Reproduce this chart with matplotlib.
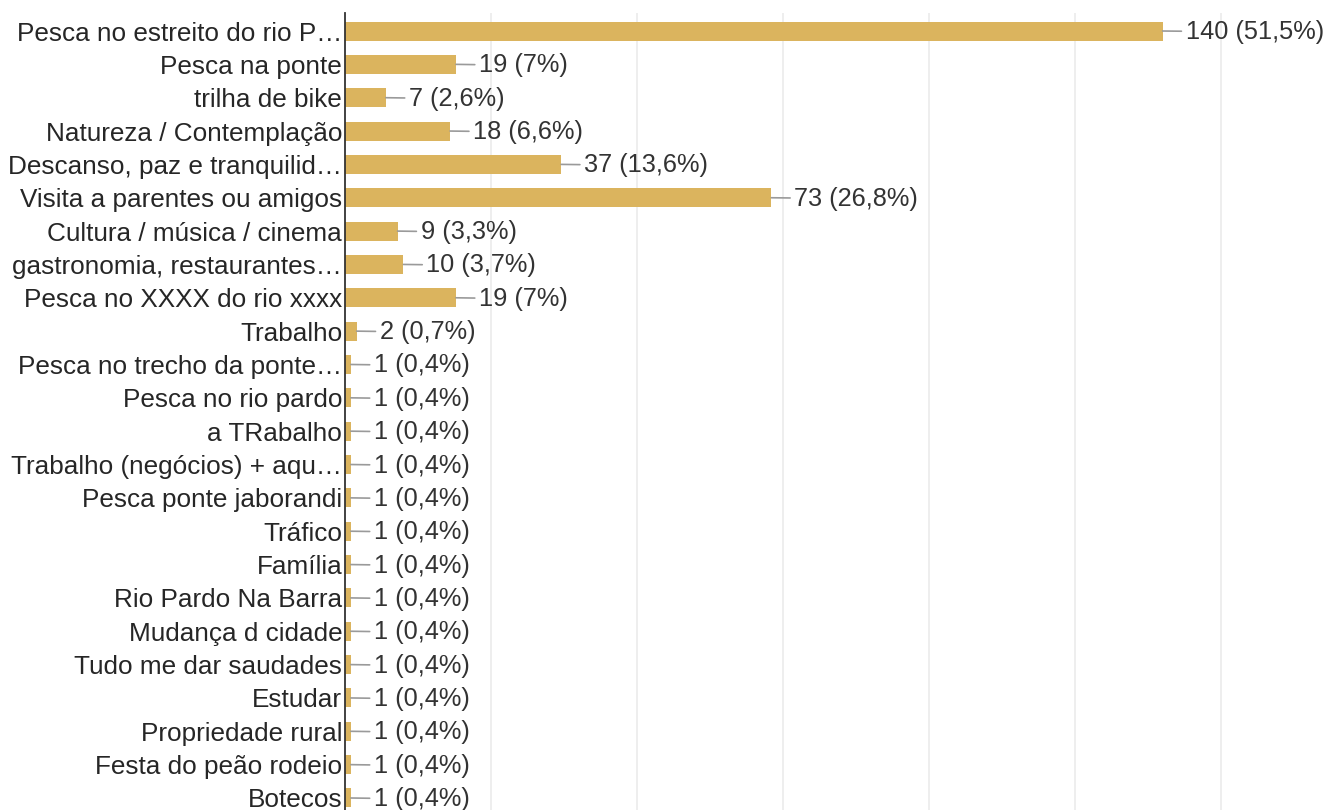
import matplotlib
matplotlib.use("Agg")
import matplotlib.pyplot as plt

categories = [
    "Pesca no estreito do rio P…",
    "Pesca na ponte",
    "trilha de bike",
    "Natureza / Contemplação",
    "Descanso, paz e tranquilid…",
    "Visita a parentes ou amigos",
    "Cultura / música / cinema",
    "gastronomia, restaurantes…",
    "Pesca no XXXX do rio xxxx",
    "Trabalho",
    "Pesca no trecho da ponte…",
    "Pesca no rio pardo",
    "a TRabalho",
    "Trabalho (negócios) + aqu…",
    "Pesca ponte jaborandi",
    "Tráfico",
    "Família",
    "Rio Pardo Na Barra",
    "Mudança d cidade",
    "Tudo me dar saudades",
    "Estudar",
    "Propriedade rural",
    "Festa do peão rodeio",
    "Botecos",
]
counts = [140, 19, 7, 18, 37, 73, 9, 10, 19, 2,
          1, 1, 1, 1, 1, 1, 1, 1, 1, 1, 1, 1, 1, 1]
percents = ["51,5%", "7%", "2,6%", "6,6%", "13,6%", "26,8%", "3,3%", "3,7%", "7%", "0,7%",
            "0,4%", "0,4%", "0,4%", "0,4%", "0,4%", "0,4%", "0,4%", "0,4%", "0,4%", "0,4%",
            "0,4%", "0,4%", "0,4%", "0,4%"]
grid_ticks = [25, 50, 75, 100, 125, 150]

plt.rcParams['font.family'] = ['Liberation Sans', 'DejaVu Sans']

fig = plt.figure(figsize=(13.31, 8.10), dpi=100)
ax = fig.add_axes([345 / 1331, 0, 1 - 345 / 1331, 1 - 13 / 810])

y = list(range(len(categories)))
ax.barh(y, counts, height=0.57, color="#dbb45e", zorder=2)

for i, (c, p) in enumerate(zip(counts, percents)):
    ax.annotate(f"{c} ({p})", xy=(c, i), xytext=(23, -1), textcoords="offset pixels",
                va="center", ha="left", fontsize=18.3, color="#333333",
                arrowprops=dict(arrowstyle="-", color="#9a9a9a", lw=1.2,
                                shrinkA=1, shrinkB=0))

ax.set_xlim(0, (1331 - 345) / 5.84)
ax.set_ylim(23.36, -0.54)
ax.set_yticks(y)
ax.set_yticklabels(categories, fontsize=18.8, color="#262626")
ax.tick_params(axis="y", length=0, pad=2)
ax.set_xticks(grid_ticks)
ax.tick_params(axis="x", length=0, labelbottom=False)
ax.grid(axis="x", color="#ebebeb", lw=1.2, zorder=0)

for s in ["top", "right", "bottom"]:
    ax.spines[s].set_visible(False)
ax.spines["left"].set_color("#333333")
ax.spines["left"].set_linewidth(1.3)
ax.spines["left"].set_zorder(3)

fig.savefig("out.png", dpi=100)
